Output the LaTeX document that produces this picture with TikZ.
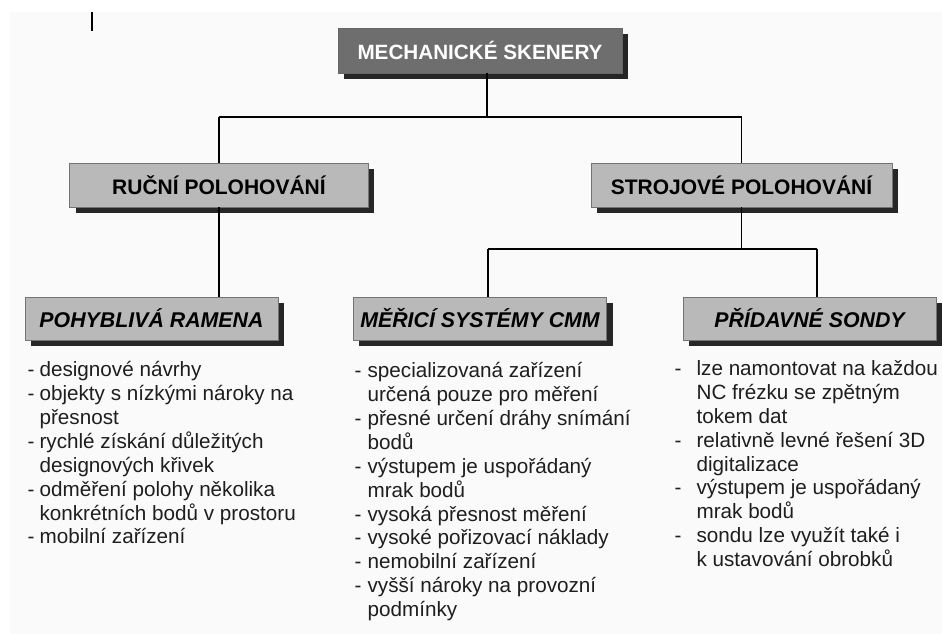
\documentclass[tikz,border=0pt]{standalone}
\usepackage{fontspec}
\setmainfont{Liberation Sans}
\usetikzlibrary{shadows}
\definecolor{bggray}{HTML}{FAFAFA}
\definecolor{hdrgray}{HTML}{6E6E6E}
\definecolor{boxgray}{HTML}{B9B9B9}
\definecolor{txtgray}{HTML}{1E1E1E}
\newlength{\dashw}
\newcommand{\dsh}{\makebox[\dashw][l]{-}}
\newcommand{\ind}{\hspace*{\dashw}}
\tikzset{
  boxshadow/.style={drop shadow={shadow xshift=4.5pt, shadow yshift=-4.5pt, opacity=1, fill=black!85}},
  hdrbox/.style={boxshadow, fill=hdrgray, draw=black!60, line width=0.5pt, text=white,
    minimum width=213pt, minimum height=33.75pt, inner sep=0pt, font=\fontsize{15.5pt}{18pt}\selectfont\bfseries},
  lvlbox/.style={boxshadow, fill=boxgray, draw=black!55, line width=0.5pt, text=black,
    minimum width=224pt, minimum height=33pt, inner sep=0pt, font=\fontsize{15.75pt}{18pt}\selectfont\bfseries},
  subbox/.style={lvlbox, minimum width=190pt, minimum height=32.25pt,
    font=\fontsize{16pt}{18pt}\selectfont\bfseries\itshape},
  lst/.style={anchor=north west, inner sep=0pt, align=left, text=txtgray,
    font=\fontsize{15.5pt}{17.9pt}\selectfont},
}
\begin{document}
\begin{tikzpicture}[x=0.75pt, y=-0.75pt, line width=0.9pt]
  \useasboundingbox (0,0) rectangle (942,634);
  \fill[bggray] (10,12) rectangle (942,634);
  \draw[line width=1.2pt] (92,12) -- (92,31);
  % boxes
  \node[hdrbox] (hdr) at (480,50.5) {MECHANICKÉ SKENERY};
  \node[lvlbox] (ruc) at (219,185) {RUČNÍ POLOHOVÁNÍ};
  \node[lvlbox, minimum width=225.75pt] (stroj) at (741.5,185) {STROJOVÉ POLOHOVÁNÍ};
  \node[subbox] (pohyb) at (151.5,318.5) {POHYBLIVÁ RAMENA};
  \node[subbox] (mer) at (480,318.5) {MĚŘICÍ SYSTÉMY CMM};
  \node[subbox] (prid) at (809.5,318.5) {PŘÍDAVNÉ SONDY};
  % connectors
  \coordinate (jt) at (487,117);
  \coordinate (jm) at (488,249);
  \coordinate (jp) at (817,249);
  \draw (hdr.south -| jt) -- (jt);
  \draw (ruc.north |- jt) -- (stroj.north |- jt);
  \draw (ruc.north |- jt) -- (ruc.north);
  \draw (stroj.north |- jt) -- (stroj.north);
  \draw (ruc.south) -- (ruc.south |- pohyb.north);
  \draw (stroj.south) -- (stroj.south |- jm);
  \draw (jm) -- (jp);
  \draw (jm) -- (jm |- mer.north);
  \draw (jp) -- (jp |- prid.north);
  % lists
  \node[lst, execute at begin node={\setlength{\dashw}{9pt}}] (lpohyb) at (27,361)
    {\dsh designové návrhy\\
     \dsh objekty s nízkými nároky na\\
     \ind přesnost\\
     \dsh rychlé získání důležitých\\
     \ind designových křivek\\
     \dsh odměření polohy několika\\
     \ind konkrétních bodů v prostoru\\
     \dsh mobilní zařízení};
  \node[lst, execute at begin node={\setlength{\dashw}{9.75pt}}] (lmer) at (354,362)
    {\dsh specializovaná zařízení\\
     \ind určená pouze pro měření\\
     \dsh přesné určení dráhy snímání\\
     \ind bodů\\
     \dsh výstupem je uspořádaný\\
     \ind mrak bodů\\
     \dsh vysoká přesnost měření\\
     \dsh vysoké pořizovací náklady\\
     \dsh nemobilní zařízení\\
     \dsh vyšší nároky na provozní\\
     \ind podmínky};
  \node[lst, execute at begin node={\setlength{\dashw}{16.5pt}}] (lprid) at (674,360)
    {\dsh lze namontovat na každou\\
     \ind NC frézku se zpětným\\
     \ind tokem dat\\
     \dsh relativně levné řešení 3D\\
     \ind digitalizace\\
     \dsh výstupem je uspořádaný\\
     \ind mrak bodů\\
     \dsh sondu lze využít také i\\
     \ind k ustavování obrobků};
\end{tikzpicture}
\end{document}
